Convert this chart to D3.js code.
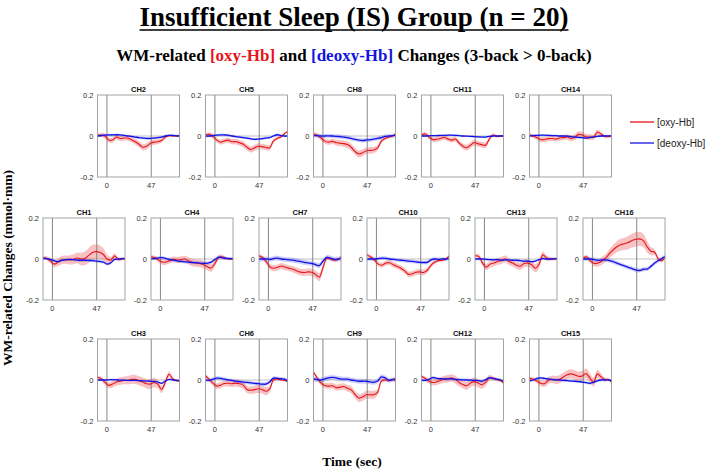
<!DOCTYPE html>
<html><head><meta charset="utf-8">
<script src="https://cdn.jsdelivr.net/npm/d3@7"></script>
<style>body{margin:0;background:#fff}svg{display:block}</style>
</head><body>
<svg id="c" width="708" height="471"></svg>
<script>
// ---- data ----
const times = [-10,-6,-2,2,6,10,14,18,22,26,30,34,38,42,46,50,54,58,62,66,70,74,77];
const xTicks = [0, 47];
const yTicks = [0.2, 0, -0.2];
const yTickLabels = ["0.2", "0", "-0.2"];
const row1 = ["CH2","CH5","CH8","CH11","CH14"];
const row2 = ["CH1","CH4","CH7","CH10","CH13","CH16"];
const row3 = ["CH3","CH6","CH9","CH12","CH15"];
const legendLabels = ["[oxy-Hb]", "[deoxy-Hb]"];

const oxy_CH2 = [0.003,0.005,0.0,-0.02,-0.02,-0.005,-0.012,-0.01,-0.01,-0.018,-0.028,-0.04,-0.055,-0.05,-0.036,-0.03,-0.028,-0.022,-0.005,0.002,0.0,0.0,0.003];
const deoxy_CH2 = [0.0,0.002,0.004,0.005,0.005,0.006,0.005,0.003,0.0,-0.002,-0.005,-0.008,-0.01,-0.012,-0.012,-0.01,-0.008,-0.005,0.0,0.003,0.003,0.001,0.0];
const oxy_CH5 = [0.005,0.008,-0.002,-0.02,-0.03,-0.024,-0.02,-0.028,-0.027,-0.033,-0.04,-0.055,-0.066,-0.058,-0.05,-0.052,-0.055,-0.058,-0.025,-0.012,-0.005,0.012,0.022];
const deoxy_CH5 = [0,0,0.002,0.004,0.005,0.005,0.004,0.0,-0.003,-0.005,-0.008,-0.01,-0.014,-0.016,-0.015,-0.013,-0.01,-0.008,0.0,0.006,0.002,0.0,0.0];
const oxy_CH8 = [0.01,0.004,-0.01,-0.025,-0.03,-0.026,-0.032,-0.035,-0.037,-0.042,-0.055,-0.075,-0.088,-0.082,-0.072,-0.07,-0.068,-0.058,-0.025,-0.012,-0.005,0.0,0.01];
const deoxy_CH8 = [0.002,0.002,0.0,0.0,0.001,0.0,-0.002,-0.003,-0.005,-0.008,-0.012,-0.016,-0.02,-0.022,-0.02,-0.018,-0.015,-0.012,-0.008,-0.002,0.0,0.002,0.003];
const oxy_CH11 = [0.005,0.01,-0.005,-0.017,-0.016,-0.012,-0.006,-0.014,-0.02,-0.015,-0.035,-0.05,-0.057,-0.045,-0.032,-0.038,-0.042,-0.045,-0.015,0.005,-0.002,0.0,0.0];
const deoxy_CH11 = [0,0,0.001,0.002,0.002,0.003,0.003,0.004,0.004,0.003,0.002,0.0,-0.001,-0.002,-0.003,-0.004,-0.005,-0.005,-0.002,0,0,0,0];
const oxy_CH14 = [0.005,0.0,-0.008,-0.018,-0.017,-0.013,-0.012,-0.015,-0.01,-0.008,-0.005,-0.012,-0.006,0.008,0.005,-0.004,-0.005,-0.006,0.018,0.01,-0.002,-0.003,0.0];
const deoxy_CH14 = [0,0.002,0.003,0.004,0.004,0.003,0.002,0.002,0.0,0.0,-0.001,-0.003,-0.005,-0.007,-0.008,-0.01,-0.008,-0.004,-0.002,0,0,0.001,0.001];
const oxy_CH1 = [0.006,0.003,-0.01,-0.025,-0.015,-0.005,-0.003,-0.005,-0.002,0.005,0.0,0.002,0.015,0.03,0.036,0.033,0.022,0.0,-0.005,0.015,-0.002,0.0,0.003];
const deoxy_CH1 = [0.003,0.002,-0.003,-0.008,-0.013,-0.006,-0.004,-0.002,-0.003,-0.005,-0.006,-0.006,-0.007,-0.008,-0.01,-0.012,-0.015,-0.025,-0.018,-0.002,0.0,0.002,0.002];
const oxy_CH4 = [0.012,0.006,-0.005,-0.015,-0.015,-0.008,-0.002,-0.005,-0.003,0.0,-0.01,-0.017,-0.02,-0.022,-0.028,-0.038,-0.044,-0.02,0.008,0.01,0.002,0.0,0.0];
const deoxy_CH4 = [0.002,0.002,0.006,0.007,0.002,-0.003,-0.006,-0.009,-0.012,-0.014,-0.015,-0.017,-0.018,-0.02,-0.021,-0.02,-0.015,-0.002,0.009,0.006,0.003,0.002,0.002];
const oxy_CH7 = [0.016,0.006,-0.015,-0.04,-0.045,-0.04,-0.034,-0.04,-0.045,-0.05,-0.058,-0.064,-0.066,-0.063,-0.065,-0.075,-0.088,-0.04,0.004,0.0,-0.006,-0.003,0.012];
const deoxy_CH7 = [0,0,0,-0.002,0.003,0.004,0.0,-0.002,-0.004,-0.006,-0.009,-0.012,-0.016,-0.019,-0.022,-0.027,-0.032,-0.01,0.008,0.004,-0.002,0.0,0.002];
const oxy_CH10 = [0.02,0.01,-0.005,-0.025,-0.03,-0.02,-0.018,-0.028,-0.036,-0.045,-0.058,-0.075,-0.072,-0.065,-0.063,-0.066,-0.055,-0.03,-0.015,-0.008,-0.006,0.0,0.015];
const deoxy_CH10 = [0,0,0,0.002,0.004,0.003,0.0,-0.002,-0.004,-0.006,-0.008,-0.01,-0.012,-0.014,-0.016,-0.017,-0.016,-0.004,0.0,-0.002,0.0,0.0,0.002];
const oxy_CH13 = [0.016,0.013,-0.02,-0.04,-0.025,-0.02,-0.012,-0.007,0.0,-0.012,-0.02,-0.03,-0.035,-0.022,-0.02,-0.028,-0.045,-0.025,0.02,0.005,0.0,0.0,0.0];
const deoxy_CH13 = [0,0,0,-0.002,-0.003,-0.004,-0.003,-0.006,-0.004,-0.005,-0.006,-0.006,-0.008,-0.01,-0.011,-0.013,-0.01,-0.003,0.002,0,0,0.001,0.002];
const oxy_CH16 = [0.005,0.01,-0.01,-0.022,-0.02,-0.01,0.004,0.026,0.045,0.06,0.07,0.074,0.08,0.09,0.096,0.098,0.09,0.06,0.038,0.033,0.0,-0.008,0.01];
const deoxy_CH16 = [0,0,0,-0.003,-0.007,-0.005,-0.004,-0.008,-0.013,-0.02,-0.027,-0.034,-0.041,-0.047,-0.053,-0.056,-0.05,-0.049,-0.036,-0.02,-0.007,0.003,0.012];
const oxy_CH3 = [0.013,0.006,-0.012,-0.026,-0.02,-0.01,-0.006,-0.002,-0.002,0.003,0.003,-0.003,-0.01,-0.018,-0.02,-0.012,-0.02,-0.046,-0.01,0.028,0.005,-0.003,-0.004];
const deoxy_CH3 = [0,0,0,0.001,0.002,0.001,-0.001,-0.001,-0.002,-0.002,-0.002,-0.003,-0.004,-0.005,-0.006,-0.007,-0.01,-0.016,-0.005,0.003,0,-0.002,-0.003];
const oxy_CH6 = [0.021,0.002,-0.016,-0.03,-0.025,-0.017,-0.016,-0.018,-0.015,-0.018,-0.025,-0.046,-0.05,-0.047,-0.043,-0.046,-0.055,-0.045,0.0,0.005,0.001,-0.002,-0.006];
const deoxy_CH6 = [0.001,-0.002,0.004,0.009,0.008,0.004,0.0,-0.002,-0.006,-0.008,-0.01,-0.012,-0.014,-0.016,-0.018,-0.02,-0.02,-0.01,0.009,0.008,0.006,0.004,-0.005];
const oxy_CH9 = [0.038,0.01,-0.015,-0.027,-0.03,-0.028,-0.037,-0.035,-0.032,-0.04,-0.048,-0.07,-0.088,-0.083,-0.072,-0.072,-0.072,-0.06,-0.005,0.0,-0.003,0.0,0.01];
const deoxy_CH9 = [0.005,0.002,0.0,0.006,0.01,0.013,0.01,0.006,0.004,0.004,0.0,-0.003,-0.006,-0.006,-0.006,-0.009,-0.011,-0.005,0.015,0.01,-0.002,0.003,-0.003];
const oxy_CH12 = [0.018,0.007,-0.006,-0.012,-0.009,-0.002,0.004,0.006,0.01,0.002,-0.012,-0.022,-0.028,-0.015,-0.008,-0.015,-0.023,-0.012,0.012,0.008,0.002,-0.004,-0.015];
const deoxy_CH12 = [-0.001,-0.002,0.003,0.012,0.008,0.006,0.005,0.005,0.006,0.003,0.002,0.001,0.0,-0.001,-0.002,-0.003,-0.006,0.002,0.01,0.008,0.004,0.0,-0.007];
const oxy_CH15 = [0.008,0.004,-0.005,-0.016,-0.018,-0.002,0.004,0.0,0.004,0.015,0.026,0.03,0.025,0.018,0.02,0.032,0.01,-0.01,0.03,0.015,0.002,0.002,-0.01];
const deoxy_CH15 = [-0.004,0.0,0.008,0.01,0.008,0.005,0.002,0.001,0.0,-0.002,-0.003,-0.005,-0.006,-0.008,-0.01,-0.013,-0.016,-0.012,-0.004,0,0,0,-0.004];

// standard-error half widths of the shaded bands
const seOxy_CH2 = [0.008,0.01,0.012,0.012,0.012,0.012,0.012,0.012,0.013,0.013,0.014,0.015,0.015,0.015,0.014,0.013,0.012,0.01,0.008,0.006,0.005,0.004,0.004];
const seOxy_CH5 = [0.008,0.01,0.012,0.012,0.012,0.012,0.013,0.013,0.014,0.014,0.015,0.015,0.015,0.015,0.015,0.014,0.014,0.013,0.01,0.008,0.006,0.005,0.005];
const seOxy_CH8 = [0.008,0.01,0.012,0.013,0.013,0.013,0.014,0.015,0.015,0.016,0.017,0.017,0.017,0.017,0.016,0.016,0.015,0.014,0.01,0.008,0.006,0.005,0.005];
const seOxy_CH11 = [0.008,0.01,0.011,0.012,0.012,0.012,0.012,0.012,0.012,0.013,0.013,0.013,0.014,0.014,0.014,0.014,0.014,0.014,0.011,0.008,0.006,0.005,0.005];
const seOxy_CH14 = [0.008,0.01,0.011,0.012,0.012,0.012,0.012,0.012,0.013,0.013,0.013,0.014,0.014,0.015,0.015,0.014,0.013,0.013,0.014,0.01,0.006,0.005,0.005];
const seOxy_CH1 = [0.008,0.01,0.012,0.015,0.018,0.02,0.02,0.022,0.024,0.026,0.03,0.033,0.036,0.038,0.036,0.034,0.03,0.022,0.016,0.013,0.008,0.006,0.005];
const seOxy_CH4 = [0.008,0.01,0.012,0.013,0.013,0.014,0.014,0.015,0.016,0.016,0.017,0.018,0.018,0.018,0.018,0.018,0.018,0.015,0.012,0.01,0.007,0.005,0.005];
const seOxy_CH7 = [0.008,0.01,0.012,0.014,0.015,0.015,0.015,0.015,0.015,0.016,0.016,0.016,0.017,0.017,0.018,0.019,0.02,0.016,0.01,0.008,0.006,0.005,0.005];
const seOxy_CH10 = [0.008,0.01,0.011,0.012,0.012,0.012,0.012,0.013,0.013,0.013,0.014,0.014,0.014,0.014,0.014,0.014,0.013,0.011,0.009,0.007,0.006,0.005,0.005];
const seOxy_CH13 = [0.008,0.01,0.013,0.015,0.016,0.016,0.016,0.017,0.017,0.017,0.017,0.018,0.018,0.018,0.018,0.019,0.02,0.02,0.016,0.012,0.008,0.006,0.005];
const seOxy_CH16 = [0.008,0.01,0.012,0.014,0.016,0.018,0.02,0.022,0.025,0.027,0.029,0.03,0.032,0.034,0.035,0.035,0.033,0.028,0.02,0.015,0.01,0.007,0.006];
const seOxy_CH3 = [0.008,0.01,0.012,0.014,0.016,0.017,0.018,0.019,0.02,0.021,0.022,0.022,0.022,0.023,0.024,0.023,0.02,0.018,0.016,0.014,0.01,0.006,0.005];
const seOxy_CH6 = [0.008,0.01,0.012,0.014,0.015,0.015,0.016,0.016,0.017,0.017,0.018,0.018,0.018,0.019,0.02,0.02,0.02,0.016,0.01,0.008,0.006,0.005,0.005];
const seOxy_CH9 = [0.008,0.01,0.012,0.013,0.014,0.014,0.015,0.015,0.016,0.016,0.017,0.018,0.019,0.02,0.02,0.02,0.019,0.016,0.01,0.008,0.006,0.005,0.005];
const seOxy_CH12 = [0.008,0.01,0.012,0.014,0.015,0.016,0.017,0.018,0.018,0.019,0.019,0.019,0.019,0.019,0.02,0.02,0.02,0.018,0.014,0.01,0.008,0.006,0.005];
const seOxy_CH15 = [0.008,0.01,0.012,0.014,0.016,0.017,0.018,0.019,0.02,0.021,0.022,0.023,0.023,0.024,0.024,0.024,0.023,0.022,0.02,0.016,0.01,0.007,0.006];
const seDeoxyChannels = ["CH1","CH2","CH3","CH4","CH5","CH6","CH7","CH8","CH9","CH10","CH11","CH12","CH13","CH14","CH15","CH16"];
const seDeoxy = [0.007,0.006,0.004,0.008,0.006,0.009,0.012,0.01,0.012,0.009,0.004,0.007,0.006,0.005,0.006,0.01];

// ---- assemble lookup ----
const channelData = {
  CH1:[oxy_CH1,deoxy_CH1,seOxy_CH1], CH2:[oxy_CH2,deoxy_CH2,seOxy_CH2], CH3:[oxy_CH3,deoxy_CH3,seOxy_CH3],
  CH4:[oxy_CH4,deoxy_CH4,seOxy_CH4], CH5:[oxy_CH5,deoxy_CH5,seOxy_CH5], CH6:[oxy_CH6,deoxy_CH6,seOxy_CH6],
  CH7:[oxy_CH7,deoxy_CH7,seOxy_CH7], CH8:[oxy_CH8,deoxy_CH8,seOxy_CH8], CH9:[oxy_CH9,deoxy_CH9,seOxy_CH9],
  CH10:[oxy_CH10,deoxy_CH10,seOxy_CH10], CH11:[oxy_CH11,deoxy_CH11,seOxy_CH11], CH12:[oxy_CH12,deoxy_CH12,seOxy_CH12],
  CH13:[oxy_CH13,deoxy_CH13,seOxy_CH13], CH14:[oxy_CH14,deoxy_CH14,seOxy_CH14], CH15:[oxy_CH15,deoxy_CH15,seOxy_CH15],
  CH16:[oxy_CH16,deoxy_CH16,seOxy_CH16]
};

// ---- drawing ----
const svg = d3.select("#c");
const RED = "#e8141b", BLUE = "#1212e6";
const PW = 82, PH = 82, STEP = 108;
const rowsSpec = [
  {names: row1, left: 97.5, top: 95},
  {names: row2, left: 43, top: 218},
  {names: row3, left: 97.5, top: 339}
];
const x = d3.scaleLinear().domain([-10, 77]).range([0, PW]);
const y = d3.scaleLinear().domain([-0.2, 0.2]).range([PH, 0]);
const curve = d3.curveCatmullRom.alpha(0.5);

rowsSpec.forEach(r => {
  r.names.forEach((name, i) => {
    const [o, d, se] = channelData[name];
    const sd = seDeoxy[seDeoxyChannels.indexOf(name)];
    const g = svg.append("g").attr("transform", `translate(${r.left + i*STEP},${r.top})`);
    const pts = times.map((t, k) => ({t, o: o[k], d: d[k], se: se[k]}));

    g.append("rect").attr("width", PW).attr("height", PH).attr("fill", "#fff");
    g.append("line").attr("x1", 0).attr("x2", PW).attr("y1", y(0)).attr("y2", y(0))
      .attr("stroke", "#b4b4b4").attr("stroke-width", 0.8);
    g.append("path").datum(pts).attr("fill", "rgba(238,70,70,0.33)")
      .attr("d", d3.area().curve(curve).x(p => x(p.t)).y0(p => y(p.o - p.se)).y1(p => y(p.o + p.se)));
    g.append("path").datum(pts).attr("fill", "rgba(80,80,240,0.28)")
      .attr("d", d3.area().curve(curve).x(p => x(p.t)).y0(p => y(p.d - sd)).y1(p => y(p.d + sd)));
    xTicks.forEach(t => g.append("line").attr("x1", x(t)).attr("x2", x(t)).attr("y1", 0).attr("y2", PH)
      .attr("stroke", "#7a7a7a").attr("stroke-width", 0.9));
    g.append("path").datum(pts).attr("fill", "none").attr("stroke", RED).attr("stroke-width", 1.1)
      .attr("d", d3.line().curve(curve).x(p => x(p.t)).y(p => y(p.o)));
    g.append("path").datum(pts).attr("fill", "none").attr("stroke", BLUE).attr("stroke-width", 1.3)
      .attr("d", d3.line().curve(curve).x(p => x(p.t)).y(p => y(p.d)));
    g.append("rect").attr("width", PW).attr("height", PH).attr("fill", "none")
      .attr("stroke", "#9a9a9a").attr("stroke-width", 0.9);
    yTicks.forEach((v, k) => g.append("text").attr("x", -4).attr("y", y(v)).attr("dy", "0.35em")
      .attr("text-anchor", "end").attr("font-family", "Arial, 'Liberation Sans', sans-serif")
      .attr("font-size", 7.5).attr("fill", "#333").text(yTickLabels[k]));
    xTicks.forEach(t => g.append("text").attr("x", x(t)).attr("y", PH + 11)
      .attr("text-anchor", "middle").attr("font-family", "Arial, 'Liberation Sans', sans-serif")
      .attr("font-size", 7.5).attr("fill", "#333").text(t));
    g.append("text").attr("x", PW/2).attr("y", -3).attr("text-anchor", "middle")
      .attr("font-family", "Arial, 'Liberation Sans', sans-serif").attr("font-weight", "bold")
      .attr("font-size", 7.5).attr("fill", "#111").text(name);
  });
});

// legend
[[RED, 122], [BLUE, 143]].forEach(([c, yy], k) => {
  svg.append("line").attr("x1", 630).attr("x2", 654).attr("y1", yy).attr("y2", yy)
    .attr("stroke", c).attr("stroke-width", 1.3);
  svg.append("text").attr("x", 657).attr("y", yy).attr("dy", "0.35em")
    .attr("font-family", "Arial, 'Liberation Sans', sans-serif").attr("font-size", 10)
    .attr("fill", "#222").text(legendLabels[k]);
});

// titles
const serif = "'Times New Roman', 'Liberation Serif', serif";
const title = svg.append("text").attr("x", 354).attr("y", 26).attr("text-anchor", "middle")
  .attr("font-family", serif).attr("font-weight", "bold").attr("font-size", 27).attr("fill", "#000")
  .text("Insufficient Sleep (IS) Group (n = 20)");
const tw = title.node().getComputedTextLength();
svg.append("line").attr("x1", 354 - tw/2).attr("x2", 354 + tw/2).attr("y1", 30).attr("y2", 30)
  .attr("stroke", "#000").attr("stroke-width", 1.6);

const sub = svg.append("text").attr("x", 354).attr("y", 61).attr("text-anchor", "middle")
  .attr("font-family", serif).attr("font-weight", "bold").attr("font-size", 17).attr("fill", "#000");
sub.append("tspan").text("WM-related ");
sub.append("tspan").attr("fill", "#e8141b").text("[oxy-Hb]");
sub.append("tspan").text(" and ");
sub.append("tspan").attr("fill", "#1414e0").text("[deoxy-Hb]");
sub.append("tspan").text(" Changes (3-back > 0-back)");

// axis labels
svg.append("text").attr("transform", "translate(12,268) rotate(-90)").attr("text-anchor", "middle")
  .attr("font-family", serif).attr("font-weight", "bold").attr("font-size", 13.5).attr("fill", "#000")
  .text("WM-related Changes (mmol·mm)");
svg.append("text").attr("x", 352).attr("y", 466).attr("text-anchor", "middle")
  .attr("font-family", serif).attr("font-weight", "bold").attr("font-size", 13.5).attr("fill", "#000")
  .text("Time (sec)");
</script>
</body></html>
